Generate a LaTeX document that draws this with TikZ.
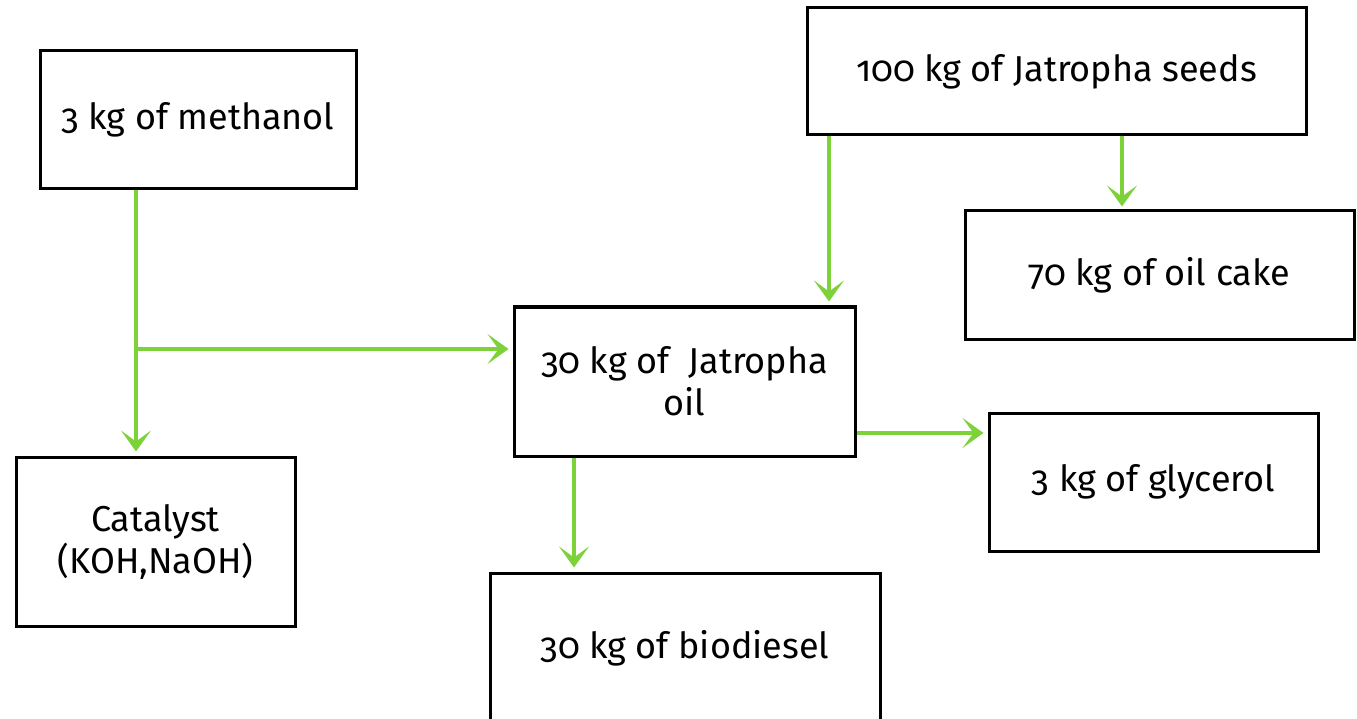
\documentclass[tikz,border=0pt]{standalone}
\usepackage{fontspec}
\setmainfont{Fira Sans}[Numbers=OldStyle]
\usetikzlibrary{arrows.meta,calc}
\definecolor{flowgreen}{RGB}{125,210,58}
\tikzset{
  box/.style={draw=black, line width=3pt, fill=none, inner sep=0pt, align=center,
    font=\fontsize{36}{42}\selectfont},
  arr/.style={draw=flowgreen, line width=4.5pt,
    -{Stealth[length=21pt,width=30pt,inset=11pt]}}
}
\begin{document}
\begin{tikzpicture}[x=1pt,y=-1pt]
\useasboundingbox (0,0) rectangle (1357,719);
\node[box, minimum width=316, minimum height=138] (meth) at (198,120) {3 kg of methanol};
\node[box, minimum width=499, minimum height=127] (seeds) at (1056.5,71.5) {100 kg of Jatropha seeds};
\node[box, minimum width=389, minimum height=128] (cake) at (1159.5,275) {70 kg of oil cake};
\node[box, minimum width=341, minimum height=149] (oil) at (684.5,381.5) {30 kg of \ Jatropha\\oil};
\node[box, minimum width=329, minimum height=138] (gly) at (1153.5,482) {3 kg of glycerol};
\node[box, minimum width=279, minimum height=169] (cat) at (155.5,541.5) {Catalyst\\(KOH,NaOH)};
\node[box, minimum width=390, minimum height=150] (bio) at (685,648) {30 kg of biodiesel};
\coordinate (j) at (136,349);
\coordinate (sl) at (829,0);
\coordinate (sr) at (1122,0);
\coordinate (od) at (574,0);
\coordinate (or) at (0,433);
\draw[arr, -] (meth.south -| j) -- (j);
\draw[arr] (j) -- ([yshift=4]cat.north -| j);
\draw[arr] (j) -- ([xshift=-4]oil.west |- j);
\draw[arr] (seeds.south -| sl) -- ([yshift=4]oil.north -| sl);
\draw[arr] (seeds.south -| sr) -- ([yshift=3]cake.north -| sr);
\draw[arr] (oil.east |- or) -- ([xshift=-4]gly.west |- or);
\draw[arr] (oil.south -| od) -- ([yshift=4]bio.north -| od);
\end{tikzpicture}
\end{document}
